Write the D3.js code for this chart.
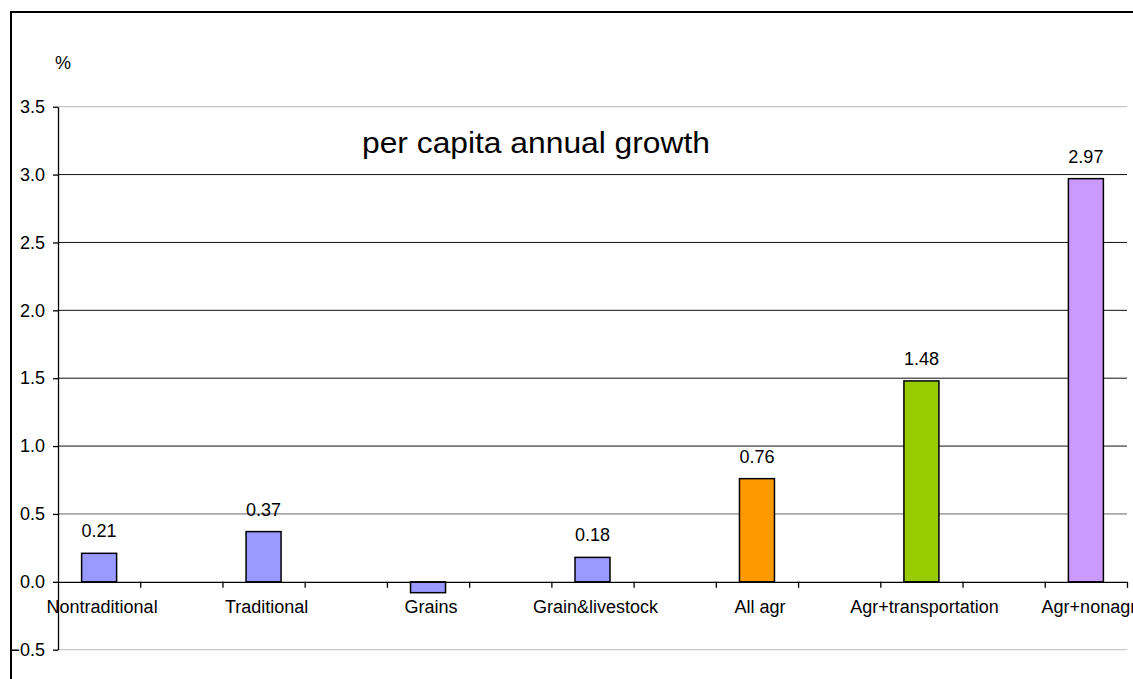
<!DOCTYPE html>
<html>
<head>
<meta charset="utf-8">
<script src="https://cdn.jsdelivr.net/npm/d3@7"></script>
<style>
  body { margin: 0; background: #fff; }
  text { font-family: "Liberation Sans", Arial, sans-serif; fill: #000; }
</style>
</head>
<body>
<script>
// categorie del grafico
var categorie = ["Nontraditional", "Traditional", "Grains", "Grain&livestock", "All agr", "Agr+transportation", "Agr+nonagr"];
// crescita annua pro capite (%)
var valori = [0.21, 0.37, -0.08, 0.18, 0.76, 1.48, 2.97];
var colori = ["#9999ff", "#9999ff", "#9999ff", "#9999ff", "#ff9900", "#99cc00", "#cc99ff"];
var yTicks = [-0.5, 0, 0.5, 1, 1.5, 2, 2.5, 3, 3.5];
var titolo = "per capita annual growth";

var W = 1133, H = 679;
var pLeft = 58, pRight = 1127, pTop = 106.7, pBottom = 649.7;

var svg = d3.select("body").append("svg")
  .attr("width", W)
  .attr("height", H);

// cornice
svg.append("rect")
  .attr("x", 11).attr("y", 12)
  .attr("width", 1300).attr("height", 900)
  .attr("fill", "none")
  .attr("stroke", "#000")
  .attr("stroke-width", 2);

// ogni categoria occupa uno slot, con uno slot vuoto tra due barre
var nslot = categorie.length * 2 - 1;
var x = d3.scaleBand().domain(d3.range(nslot)).range([pLeft, pRight]);
var xl = d3.scaleLinear().domain([0, nslot]).range([pLeft, pRight]);
var y = d3.scaleLinear().domain([-0.5, 3.5]).range([pBottom, pTop]);

// griglia
svg.append("g").selectAll("line")
  .data(yTicks.filter(function(d) { return d != 0; }))
  .enter().append("line")
  .attr("x1", pLeft).attr("x2", pRight)
  .attr("y1", function(d) { return y(d); })
  .attr("y2", function(d) { return y(d); })
  .attr("stroke", function(d) {
    if (d == 3.5 || d == -0.5) return "#bbb";
    if (d == 0.5) return "#666";
    return "#111";
  })
  .attr("stroke-width", 1);

// barre
var bw = 35;
svg.append("g").selectAll("rect")
  .data(valori)
  .enter().append("rect")
  .attr("x", function(d, i) { return x(i * 2) + x.bandwidth() / 2 - bw / 2; })
  .attr("y", function(d) { return y(Math.max(d, 0)); })
  .attr("width", bw)
  .attr("height", function(d) { return Math.abs(y(d) - y(0)); })
  .attr("fill", function(d, i) { return colori[i]; })
  .attr("stroke", "#000")
  .attr("stroke-width", 1.5);

// etichette valori (solo positivi)
svg.append("g").selectAll("text")
  .data(valori)
  .enter().append("text")
  .filter(function(d) { return d > 0; })
  .attr("x", function(d) { return x(valori.indexOf(d) * 2) + x.bandwidth() / 2; })
  .attr("y", function(d) { return y(d) - 16; })
  .attr("text-anchor", "middle")
  .attr("font-size", 18)
  .text(function(d) { return d.toFixed(2); });

// asse y
var yAxis = svg.append("g")
  .attr("transform", "translate(" + pLeft + ",0)")
  .call(d3.axisLeft(y).tickValues(yTicks).tickFormat(d3.format(".1f")).tickSize(5).tickSizeOuter(0).tickPadding(8));
yAxis.selectAll("text").attr("font-size", 18).attr("font-family", "Liberation Sans, Arial, sans-serif");
yAxis.selectAll("line, path").attr("stroke", "#000").attr("stroke-width", 1.3);

// asse x sullo zero
var xAxis = svg.append("g")
  .attr("transform", "translate(0," + y(0) + ")")
  .call(d3.axisBottom(xl).tickValues(d3.range(1, nslot + 1)).tickFormat("").tickSize(6).tickSizeOuter(0));
xAxis.selectAll("line, path").attr("stroke", "#000").attr("stroke-width", 1.3);

// nomi categorie
svg.append("g").selectAll("text")
  .data(categorie)
  .enter().append("text")
  .attr("x", function(d, i) { return x(i * 2) + x.bandwidth() / 2 + 3; })
  .attr("y", 613)
  .attr("text-anchor", "middle")
  .attr("font-size", 18)
  .text(function(d) { return d; });

// unita e titolo
svg.append("text")
  .attr("x", 55).attr("y", 69)
  .attr("font-size", 18)
  .text("%");

svg.append("text")
  .attr("x", 362).attr("y", 153)
  .attr("font-size", 29)
  .attr("textLength", 348)
  .attr("lengthAdjust", "spacingAndGlyphs")
  .text(titolo);
</script>
</body>
</html>
